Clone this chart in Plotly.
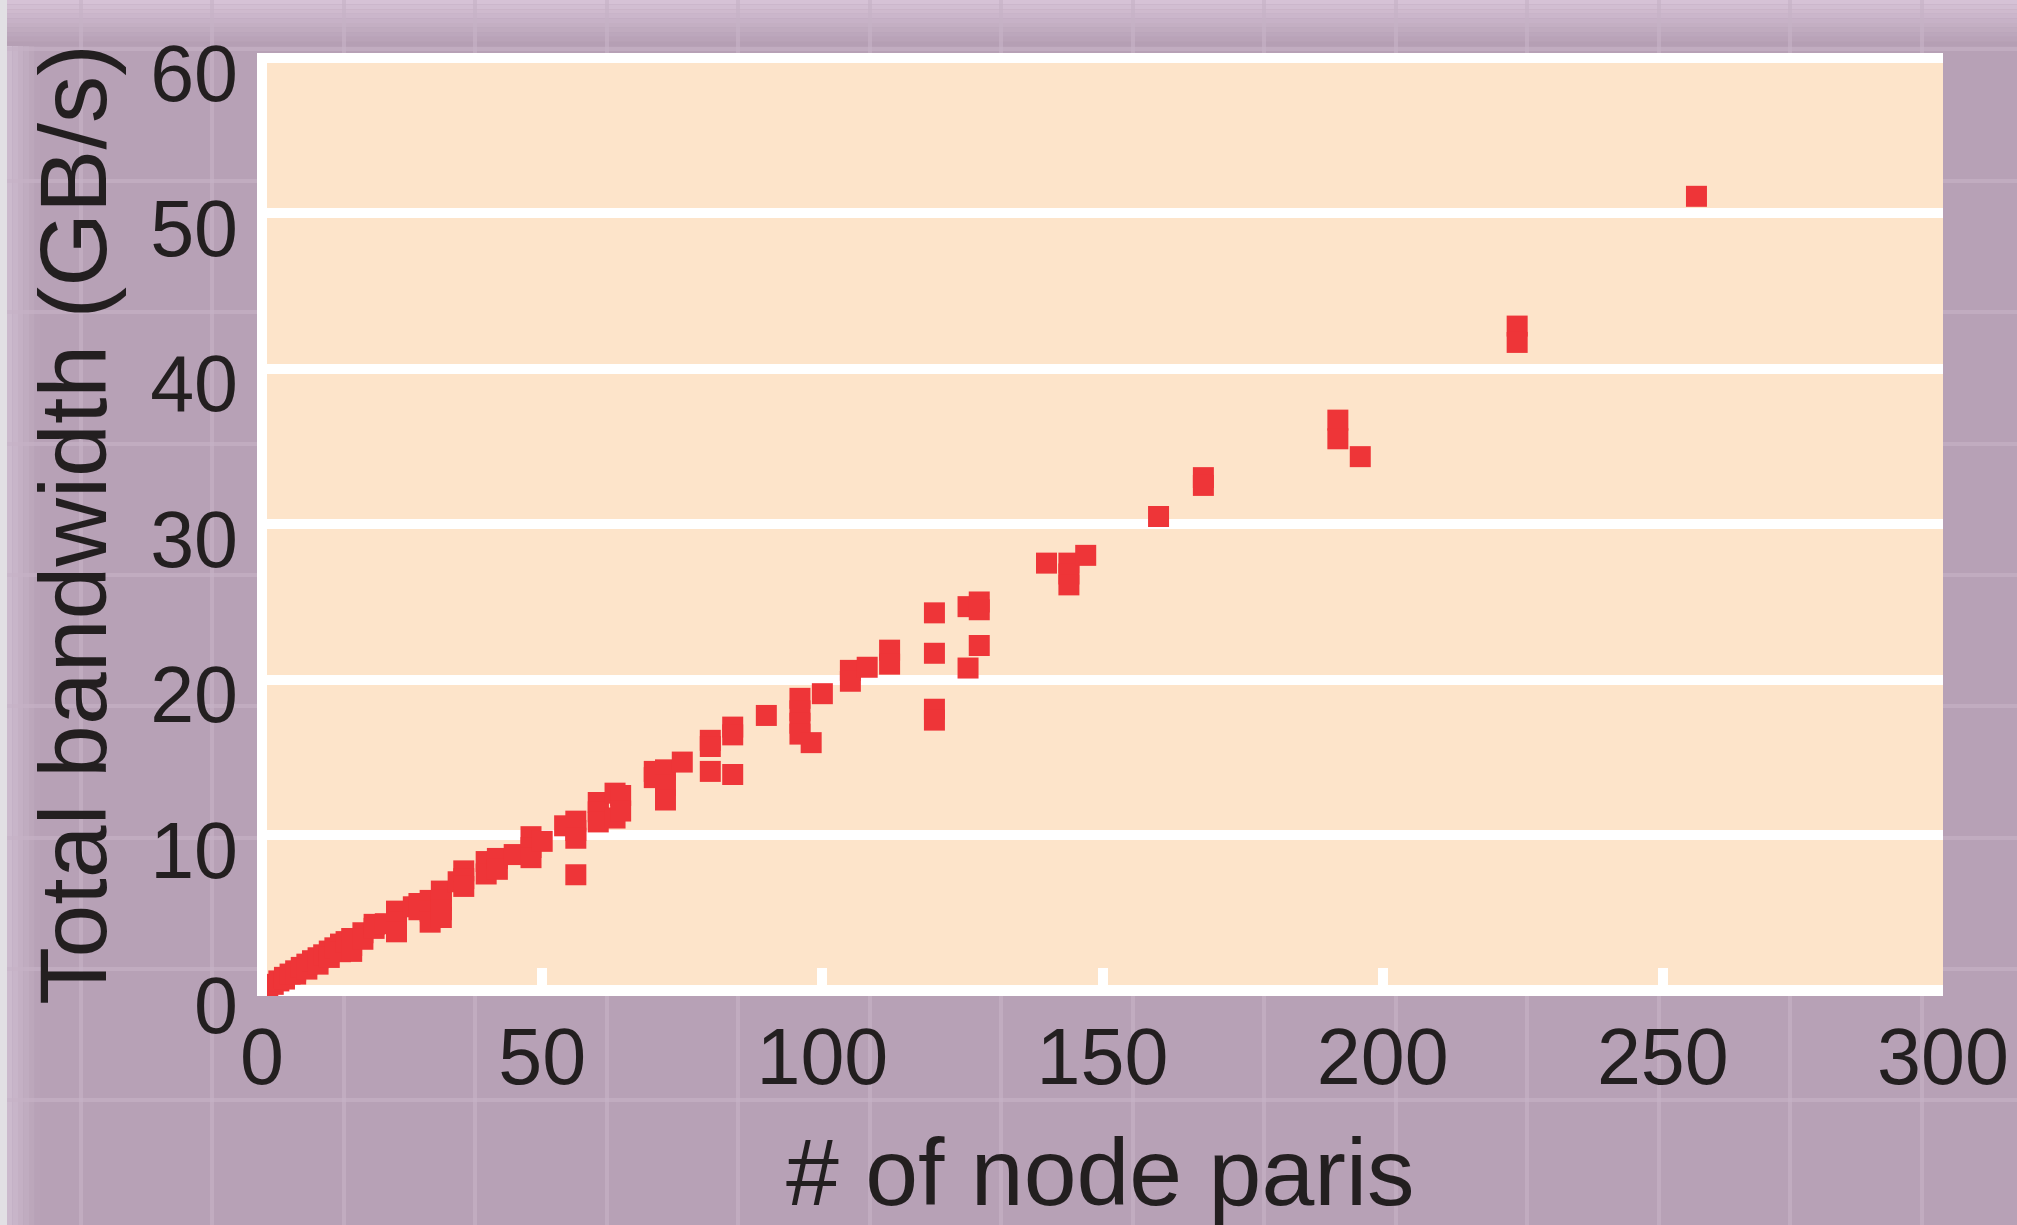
import plotly.graph_objects as go

# ---- data ----
node_pairs = [1, 1, 2, 3, 4, 4, 5, 6, 6, 7, 8, 8, 9, 10, 10, 11, 12, 12, 13, 14, 14, 15,
              16, 16, 16, 18, 18, 20, 20, 22, 24, 24, 24, 27, 28, 28, 30, 30, 30,
              32, 32, 32, 32, 35, 36, 36, 36, 40, 40, 42, 42, 45, 48, 48, 48, 50,
              54, 56, 56, 56, 56, 60, 60, 60, 63, 63, 64, 64, 70, 70, 72, 72, 72, 75,
              80, 80, 80, 84, 84, 84, 90, 96, 96, 96, 96, 98, 100, 105, 105, 108,
              112, 112, 120, 120, 120, 120, 126, 126, 128, 128, 128, 140, 144, 144,
              144, 147, 160, 168, 168, 192, 192, 196, 224, 224, 256]
bandwidth = [0.15, 0.2, 0.4, 0.62, 0.85, 0.74, 1.06, 1.27, 1.06, 1.49, 1.7, 1.38, 1.92, 2.11, 1.7,
             2.3, 2.54, 2.13, 2.75, 2.99, 2.5, 3.15, 3.35, 2.52, 2.9, 3.72, 3.3, 4.26, 4.0,
             4.3, 5.11, 4.4, 3.78, 5.39, 5.6, 5.2, 5.8, 5.1, 4.4, 6.4, 5.8, 5.2, 4.7,
             7.0, 7.7, 7.2, 6.7, 8.3, 7.5, 8.5, 7.8, 8.75, 9.9, 9.2, 8.55, 9.6,
             10.6, 10.9, 10.3, 9.8, 7.45, 12.1, 11.5, 10.85, 12.7, 11.1, 12.55, 11.55,
             14.1, 13.7, 14.2, 13.2, 12.26, 14.7, 16.1, 15.7, 14.1, 16.95, 16.45, 13.9,
             17.7, 18.8, 18.0, 17.2, 16.5, 15.95, 19.1, 20.6, 19.9, 20.8, 21.9, 21.0,
             24.3, 21.7, 18.1, 17.4, 24.7, 20.75, 25.0, 24.5, 22.2, 27.5, 27.5, 26.8,
             26.1, 28.0, 30.5, 33.0, 32.5, 36.7, 35.5, 34.35, 42.75, 41.7, 51.1]

x_ticks = [0, 50, 100, 150, 200, 250, 300]
y_ticks = [0, 10, 20, 30, 40, 50, 60]
x_title = "# of node paris"
y_title = "Total bandwidth (GB/s)"

# ---- geometry / styling ----
W, H = 2017, 1225
ML, MR, MT, MB = 257, 74, 53, 229
PW, PH = W - ML - MR, H - MT - MB

PAPER = "#B7A1B6"
PEACH = "#FDE4CA"
RED = "#EE3538"
TXT = "#231F20"
FONT = "Liberation Sans, Arial, sans-serif"


def px_x(X):
    return (X - ML) / PW


def px_y(Y):
    return (H - MB - Y) / PH


def mix(c1, c2, t):
    return "rgb(%d,%d,%d)" % tuple(round(a + (b - a) * t) for a, b in zip(c1, c2))


shapes = []
# top gradient band
n = 10
for i in range(n):
    y0, y1 = 46 * i / n, 46 * (i + 1) / n
    shapes.append(dict(type="rect", xref="paper", yref="paper", layer="below",
                       x0=px_x(0), x1=px_x(W), y0=px_y(y1), y1=px_y(y0), line_width=0,
                       fillcolor=mix((214, 194, 214), (181, 159, 180), i / (n - 1))))
# left lighter band
n = 6
for i in range(n):
    x0, x1 = 7 + 33 * i / n, 7 + 33 * (i + 1) / n
    shapes.append(dict(type="rect", xref="paper", yref="paper", layer="below",
                       x0=px_x(x0), x1=px_x(x1), y0=px_y(H), y1=px_y(46), line_width=0,
                       fillcolor=mix((204, 186, 205), (184, 162, 183), i / (n - 1))))
shapes.append(dict(type="rect", xref="paper", yref="paper", layer="below",
                   x0=px_x(0), x1=px_x(7), y0=px_y(H), y1=px_y(0), line_width=0,
                   fillcolor="rgb(226,224,228)"))
# faint background grid of the slide
faint = "rgba(198,178,198,0.65)"
for X in [81, 212, 344, 475, 607, 738, 870, 1001, 1133, 1264, 1396, 1527, 1659, 1790, 1922]:
    shapes.append(dict(type="line", xref="paper", yref="paper", layer="below",
                       x0=px_x(X), x1=px_x(X), y0=px_y(H), y1=px_y(0),
                       line=dict(color=faint, width=4)))
for Y in [49, 181, 312, 444, 575, 706, 838, 969, 1100]:
    shapes.append(dict(type="line", xref="paper", yref="paper", layer="below",
                       x0=px_x(7), x1=px_x(W), y0=px_y(Y), y1=px_y(Y),
                       line=dict(color=faint, width=4)))
# plot-area background on top of the slide decoration
shapes.append(dict(type="rect", xref="x domain", yref="y domain", layer="below",
                   x0=0, x1=1, y0=0, y1=1, line_width=0, fillcolor=PEACH))

fig = go.Figure()
fig.add_trace(go.Scatter(
    x=node_pairs, y=bandwidth, mode="markers",
    marker=dict(symbol="square", size=21, color=RED, line=dict(width=0)),
    showlegend=False, hoverinfo="x+y"))

fig.update_layout(
    width=W, height=H,
    margin=dict(l=ML, r=MR, t=MT, b=MB, pad=0),
    paper_bgcolor=PAPER, plot_bgcolor="rgba(0,0,0,0)",
    font=dict(family=FONT, color=TXT),
    shapes=shapes,
    showlegend=False,
    annotations=[dict(text=x_title, xref="paper", yref="paper", x=0.5, y=px_y(1172),
                      xanchor="center", yanchor="middle", showarrow=False,
                      font=dict(size=95, color=TXT, family=FONT))],
)
fig.update_xaxes(
    range=[-0.9, 300], tickvals=x_ticks, ticktext=[str(v) for v in x_ticks],
    showgrid=False, showline=False,
    zeroline=True, zerolinecolor="white", zerolinewidth=10,
    ticks="inside", ticklen=28, tickwidth=10, tickcolor="white",
    tickfont=dict(size=79, color=TXT, family=FONT), ticklabelstandoff=8,
    fixedrange=True, automargin=False,
)
fig.update_yaxes(
    range=[-0.35, 60.32], tickvals=y_ticks, ticktext=[str(v) for v in y_ticks],
    showgrid=True, gridcolor="white", gridwidth=10,
    showline=False,
    zeroline=True, zerolinecolor="white", zerolinewidth=11,
    ticks="", tickfont=dict(size=79, color=TXT, family=FONT),
    ticklabelstandoff=18, ticklabelshift=15,
    title=dict(text=y_title, font=dict(size=95, color=TXT, family=FONT), standoff=11),
    fixedrange=True, automargin=False,
)

fig.write_html("out.html", config=dict(displayModeBar=False, responsive=False),
               post_script="document.body.style.margin='0';document.body.style.overflow='hidden';")
